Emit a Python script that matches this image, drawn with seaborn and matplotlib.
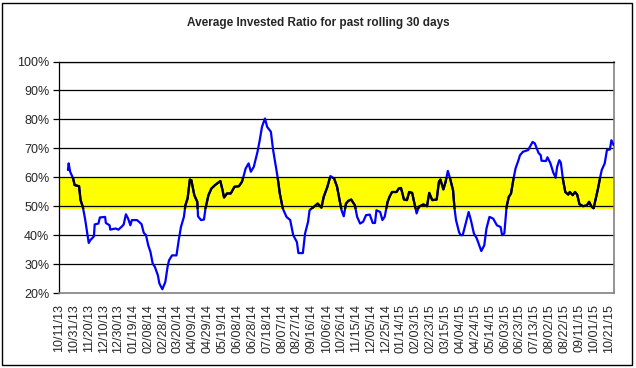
import numpy as np
import pandas as pd
import matplotlib
matplotlib.use("Agg")
import matplotlib.pyplot as plt
from matplotlib.patches import Rectangle
from matplotlib.ticker import PercentFormatter, MultipleLocator
import seaborn as sns

# days since 10/11/2013 and invested ratio (%)
start = "2013-10-11"
days = [12, 13, 15, 19, 21, 27, 29, 32, 35, 37, 40, 42, 47, 48, 53, 55, 62, 63, 68, 69,
        76, 80, 85, 87, 90, 93, 96, 98, 105, 111, 114, 117, 120, 123, 126, 129, 133, 135, 139, 143,
        146, 148, 152, 158, 161, 164, 168, 170, 173, 176, 178, 182, 186, 187, 191, 195, 197, 201, 205, 210,
        213, 217, 220, 222, 226, 231, 236, 242, 246, 248, 251, 255, 258, 262, 267, 270, 273, 277, 280, 285,
        288, 291, 294, 297, 301, 306, 311, 315, 320, 322, 328, 331, 335, 337, 341, 348, 353, 356, 361, 365,
        370, 374, 377, 380, 383, 386, 389, 393, 398, 401, 405, 409, 413, 418, 422, 425, 427, 432, 435, 438,
        442, 445, 448, 454, 457, 460, 464, 468, 471, 475, 479, 481, 484, 490, 495, 498, 502, 508, 511, 513,
        517, 520, 523, 526, 530, 532, 534, 538, 540, 543, 547, 551, 554, 558, 562, 568, 572, 575, 579, 584,
        589, 594, 596, 599, 602, 605, 608, 611, 614, 618, 620, 624, 631, 637, 640, 645, 648, 649, 655, 657,
        661, 665, 668, 670, 673, 675, 678, 681, 685, 687, 691, 694, 697, 700, 705, 710, 713, 716, 719, 722,
        725, 728, 730, 734, 737, 741, 743, 746]
ratio = [62.5, 64.8, 61.9, 59.6, 57.3, 56.9, 52.1, 49.8, 45.7, 42.3, 37.3, 38.2, 39.6, 43.7, 44.0, 46.1, 46.3, 44.2, 43.4, 41.9,
         42.3, 41.9, 43.1, 43.7, 47.2, 45.7, 43.4, 45.2, 45.2, 43.8, 40.8, 40.0, 36.5, 34.2, 30.2, 29.0, 26.1, 23.3, 21.3, 23.8,
         29.0, 31.3, 33.0, 33.0, 38.2, 42.8, 46.3, 50.3, 52.7, 59.2, 59.0, 53.8, 51.5, 46.5, 45.2, 45.4, 49.2, 53.8, 56.1, 57.3,
         57.9, 58.7, 55.5, 53.0, 54.4, 54.4, 56.7, 56.9, 58.4, 60.1, 63.0, 64.8, 61.9, 63.6, 68.8, 72.8, 77.4, 80.3, 77.4, 75.7,
         69.4, 64.8, 60.1, 54.4, 49.2, 46.3, 45.2, 40.0, 37.6, 33.8, 33.8, 40.6, 44.6, 48.6, 49.4, 50.9, 49.5, 53.2, 56.7, 60.4,
         59.6, 56.7, 52.7, 48.6, 46.5, 50.9, 51.8, 52.3, 50.3, 46.3, 44.0, 44.6, 46.9, 47.1, 44.2, 44.2, 48.6, 48.0, 45.2, 46.3,
         51.5, 53.5, 54.9, 54.9, 56.1, 56.3, 52.3, 52.1, 54.9, 54.6, 49.8, 47.5, 49.8, 50.6, 50.0, 54.6, 52.1, 52.3, 58.4, 59.2,
         55.8, 58.4, 62.2, 59.6, 55.5, 49.2, 45.2, 41.1, 40.0, 40.0, 44.0, 48.0, 45.2, 40.6, 38.8, 34.5, 36.5, 42.3, 46.3, 45.7,
         43.4, 42.8, 40.0, 40.6, 49.8, 53.2, 54.4, 59.0, 63.0, 65.9, 67.6, 68.8, 69.4, 72.2, 71.7, 68.4, 67.6, 65.7, 65.6, 66.9,
         64.8, 61.5, 59.9, 63.6, 65.9, 65.0, 59.0, 54.9, 54.0, 54.9, 53.8, 54.9, 54.0, 50.7, 50.0, 50.3, 51.5, 50.0, 49.2, 52.7,
         56.1, 60.1, 62.5, 64.8, 69.4, 69.6, 72.8, 71.1]
band_low, band_high = 49.2, 60.0
tick_step_days = 20
n_ticks = 38
axis_days = 746.5

dates = pd.to_datetime(start) + pd.to_timedelta(days, unit="D")
df = pd.DataFrame({"date": dates, "ratio": ratio})

sns.set_style("white")
plt.rcParams["font.family"] = ["Liberation Sans", "DejaVu Sans"]

fig = plt.figure(figsize=(6.36, 3.68), dpi=100)
ax = fig.add_axes([59 / 636, 1 - 293 / 368, 555 / 636, 231.5 / 368])

ax.axhspan(band_low, band_high, color="#FFFF00", lw=0, zorder=0)
for v in range(30, 101, 10):
    ax.axhline(v, color="black", lw=0.9, zorder=1)

# blue everywhere, black on top but only inside the yellow band
sns.lineplot(data=df, x="date", y="ratio", color="#0000FF", lw=1.6, ax=ax, zorder=3)
sns.lineplot(data=df, x="date", y="ratio", color="black", lw=1.6, ax=ax, zorder=4)
clip = Rectangle((0, band_low), 1, band_high - band_low, transform=ax.get_yaxis_transform())
ax.lines[-1].set_clip_path(clip)

t0 = pd.to_datetime(start)
ax.set_xlim(t0, t0 + pd.Timedelta(days=axis_days))
ax.set_ylim(20, 100)
ax.yaxis.set_major_locator(MultipleLocator(10))
ax.yaxis.set_major_formatter(PercentFormatter(100, decimals=0))
xt = [t0 + pd.Timedelta(days=tick_step_days * i) for i in range(n_ticks)]
ax.set_xticks(xt)
ax.set_xticklabels([d.strftime("%m/%d/%y") for d in xt], rotation=90)
ax.tick_params(axis="x", length=0, pad=8, labelsize=9)
ax.tick_params(axis="y", left=True, length=4, width=0.9, color="black", pad=3, labelsize=9)
ax.set_xlabel("")
ax.set_ylabel("")

for s in ["bottom", "right"]:
    ax.spines[s].set_color("#808080")
    ax.spines[s].set_linewidth(1.2)
ax.spines["left"].set_color("black")
ax.spines["left"].set_linewidth(0.9)
ax.spines["top"].set_color("black")
ax.spines["top"].set_linewidth(0.9)

fig.text(0.5, 1 - 23 / 368, "Average Invested Ratio for past rolling 30 days",
         ha="center", va="center", fontsize=8.5, fontweight="bold")

fig.patches.append(Rectangle((2 / 636, 3 / 368), 630 / 636, 362 / 368, transform=fig.transFigure,
                             fill=False, edgecolor="black", lw=1.0))

fig.savefig("out.png", dpi=100)
